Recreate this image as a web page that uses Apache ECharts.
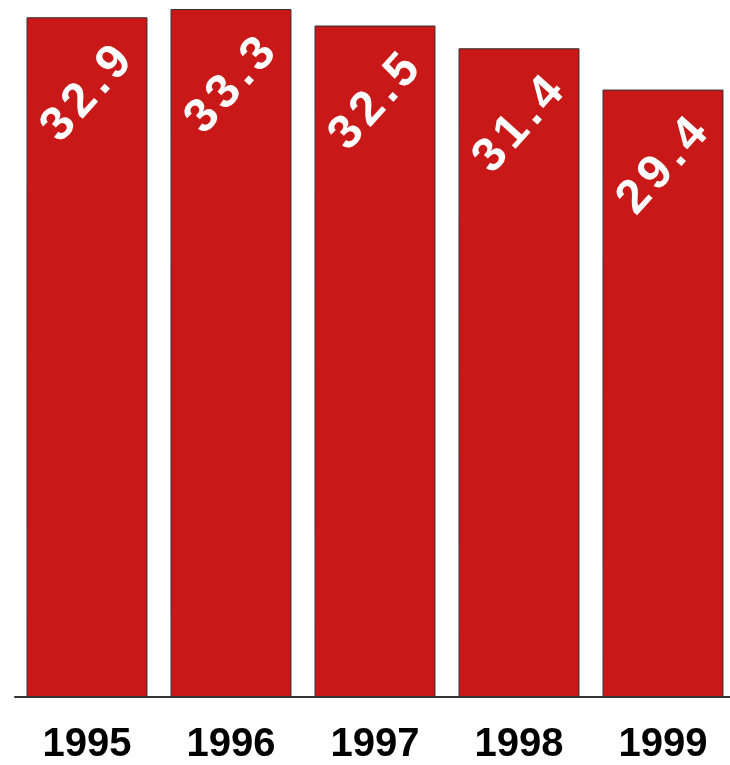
<!DOCTYPE html>
<html><head><meta charset="utf-8">
<script src="https://cdn.jsdelivr.net/npm/echarts@6/dist/echarts.min.js"></script>
<style>html,body{margin:0;padding:0;background:#fff}#c{width:730px;height:765px}</style>
</head><body><div id="c"></div>
<script>
const categories = ['1995', '1996', '1997', '1998', '1999'];
const values = [32.9, 33.3, 32.5, 31.4, 29.4];
const chart = echarts.init(document.getElementById('c'), null, {renderer: 'canvas'});
chart.setOption({
  animation: false,
  backgroundColor: '#fff',
  grid: {left: 15, top: 9, width: 720, bottom: 68, containLabel: false, outerBoundsMode: 'none'},
  xAxis: {
    type: 'category', data: categories,
    axisLine: {show: true, lineStyle: {color: '#333', width: 2}},
    axisTick: {show: false},
    axisLabel: {color: '#000', fontSize: 40, fontWeight: 'bold', fontFamily: 'Liberation Sans, Arial, sans-serif', margin: 28}
  },
  yAxis: {type: 'value', min: 0, max: 33.3, show: false, splitLine: {show: false}},
  series: [{
    type: 'bar', data: values, barCategoryGap: '16%',
    itemStyle: {color: '#C81818', borderColor: '#333', borderWidth: 1},
    label: {
      show: true, position: 'insideTop', distance: 77, rotate: 48,
      align: 'center', verticalAlign: 'middle',
      color: '#fff', fontSize: 48, fontWeight: 'bold', fontFamily: 'Liberation Sans, Arial, sans-serif',
      formatter: p => p.value.toFixed(1).split('').map(ch => '{c|' + ch + '}').join(''),
      rich: {c: {color: '#fff', fontSize: 48, fontWeight: 'bold', fontFamily: 'Liberation Sans, Arial, sans-serif', padding: [0, 2.8]}}
    }
  }]
});
</script></body></html>
